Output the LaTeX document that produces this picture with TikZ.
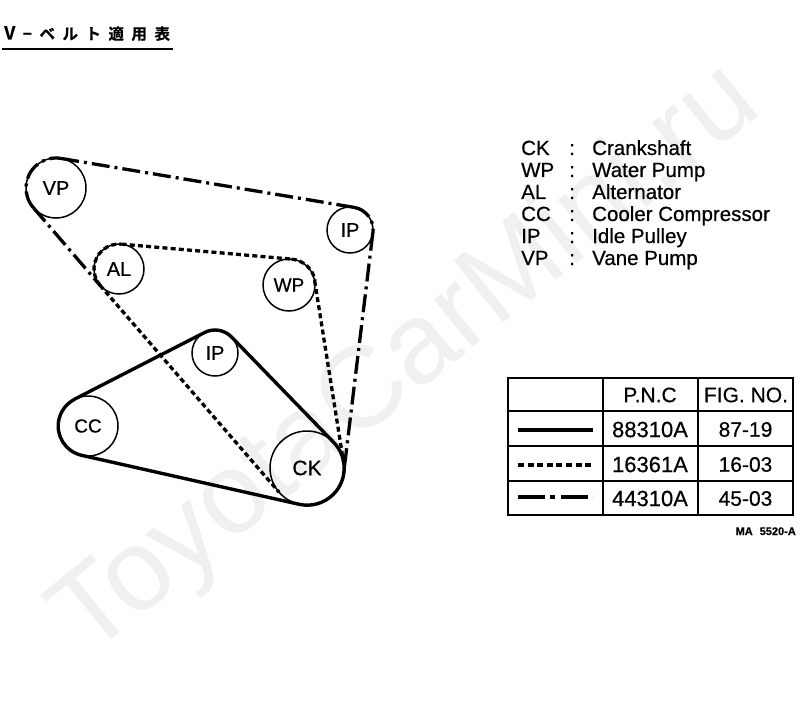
\documentclass[tikz,border=0pt]{standalone}
\usepackage{fontspec}
\setmainfont{Liberation Sans}[FakeBold=0.5]
\newfontfamily\wmfont{Liberation Sans}
\newfontfamily\jpfont{Noto Sans CJK JP Bold}[FakeBold=0.6]
\newcommand{\tgap}{\hspace{7.5pt}}
\tikzset{
  x=1pt,y=1pt,
  pulley/.style={circle,draw=black,line width=1.5pt,inner sep=0pt,outer sep=0pt,minimum size=#1,font=\fontsize{20}{20}\selectfont,fill=none},
  beltsolid/.style={line width=3.4pt,line join=round},
  beltdash/.style={line width=3.3pt,dash pattern=on 5pt off 3.2pt},
  beltdot/.style={line width=3.3pt,dash pattern=on 18pt off 5pt on 3pt off 5pt},
  gridline/.style={line width=1.7pt},
  legendtxt/.style={anchor=base west,inner sep=0pt,font=\fontsize{20.5}{20.5}\selectfont},
  celltxt/.style={inner sep=0pt,font=\fontsize{21}{21}\selectfont},
  wmark/.style={inner sep=0pt,text=black!6,font=\wmfont\fontsize{115}{115}\selectfont,rotate=39}
}
\begin{document}
\begin{tikzpicture}
\useasboundingbox (0,0) rectangle (800,-714);
\fill[white] (0,0) rectangle (800,-714);
\node[wmark] (wm) at (408,-362) {ToyotaCarMini.ru};
% pulleys
\node[pulley=60pt] (vp) at (56,-188) {VP};
\node[pulley=46pt] (ipa) at (350,-230) {IP};
\node[pulley=50pt] (al) at (119,-269) {AL};
\node[pulley=52pt,font=\fontsize{19}{19}\selectfont] (wp) at (289,-285) {WP};
\node[pulley=46pt] (ipb) at (215,-353) {IP};
\node[pulley=60pt,font=\fontsize{19}{19}\selectfont] (cc) at (88,-426) {CC};
\node[pulley=74pt,font=\fontsize{21}{21}\selectfont] (ck) at (307,-468) {CK};
% dash-dot belt
\draw[beltdot] (vp.-139) arc[start angle=-139,end angle=-279.5,radius=30];
\draw[beltdot] (vp.80.5) -- (ipa.80.5);
\draw[beltdot] (ipa.80.5) arc[start angle=80.5,end angle=-7,radius=23];
\draw[beltdot] (ipa.-7) -- (ck.-7);
\draw[beltdot] (vp.-139) -- (al.-139);
% dashed belt
\draw[beltdash] (al.-139) arc[start angle=-139,end angle=-275.1,radius=25];
\draw[beltdash] (al.84.9) -- (wp.84.9);
\draw[beltdash] (wp.84.9) arc[start angle=84.9,end angle=9,radius=26];
\draw[beltdash] (wp.9) -- (ck.9);
\draw[beltdash] (al.-139) -- (ck.-139);
% solid belt
\draw[beltsolid] (cc.117) -- (ipb.117) arc[start angle=117,end angle=44.4,radius=23]
  -- (ck.44.4) arc[start angle=44.4,end angle=-102.4,radius=37]
  -- (cc.-102.4) arc[start angle=257.6,end angle=117,radius=30] -- cycle;
% title
\node[anchor=base west,inner sep=0pt,font=\jpfont\fontsize{15.5}{16}\selectfont] (title) at (4,-39.5) {{\fontsize{18}{18}\selectfont V}\tgap−\tgap ベ\tgap ル\tgap ト\tgap 適\tgap 用\tgap 表};
\coordinate (ruleA) at (2,-49);
\coordinate (ruleB) at (173,-49);
\draw[line width=2.4pt] (ruleA) -- (ruleB);
% legend
\foreach \nm/\y/\a/\b in {l1/155/CK/Crankshaft,l2/177/WP/Water Pump,l3/199/AL/Alternator,l4/221/CC/Cooler Compressor,l5/243/IP/Idle Pulley,l6/265/VP/Vane Pump}{
  \node[legendtxt] (\nm a) at (521,-\y) {\a};
  \node[legendtxt] (\nm c) at (569,-\y) {:};
  \node[legendtxt] (\nm b) at (592,-\y) {\b};
}
% table
\coordinate (tl) at (508,-378);
\coordinate (br) at (793,-515);
\draw[gridline] (tl) rectangle (br);
\foreach \yy in {411,446,481}{\draw[gridline] (508,-\yy) -- (793,-\yy);}
\foreach \xx in {603,698}{\draw[gridline] (\xx,-378) -- (\xx,-515);}
\node[celltxt] (hp) at (650,-395) {P.N.C};
\node[celltxt] (hf) at (746,-395) {FIG. NO.};
\node[celltxt,font=\fontsize{22}{22}\selectfont] (p1) at (650,-429.5) {88310A};
\node[celltxt,font=\fontsize{22}{22}\selectfont] (p2) at (650,-464.5) {16361A};
\node[celltxt,font=\fontsize{22}{22}\selectfont] (p3) at (650,-498.5) {44310A};
\node[celltxt] (f1) at (745.5,-429.5) {87-19};
\node[celltxt] (f2) at (745.5,-464.5) {16-03};
\node[celltxt] (f3) at (745.5,-498.5) {45-03};
\coordinate (sa) at (518,-430); \coordinate (sb) at (593,-430);
\coordinate (da) at (518,-465); \coordinate (db) at (593,-465);
\coordinate (ma) at (518,-497); \coordinate (mb) at (593,-497);
\draw[line width=4pt] (sa) -- (sb);
\draw[line width=3.6pt,dash pattern=on 6pt off 3.6pt] (da) -- (db);
\draw[line width=3.6pt,dash pattern=on 27pt off 5pt on 5pt off 6pt] (ma) -- (mb);
\node[anchor=base east,inner sep=0pt,font=\bfseries\fontsize{11}{11}\selectfont] (code) at (796,-535) {MA\hspace{7pt}5520-A};
\end{tikzpicture}
\end{document}
